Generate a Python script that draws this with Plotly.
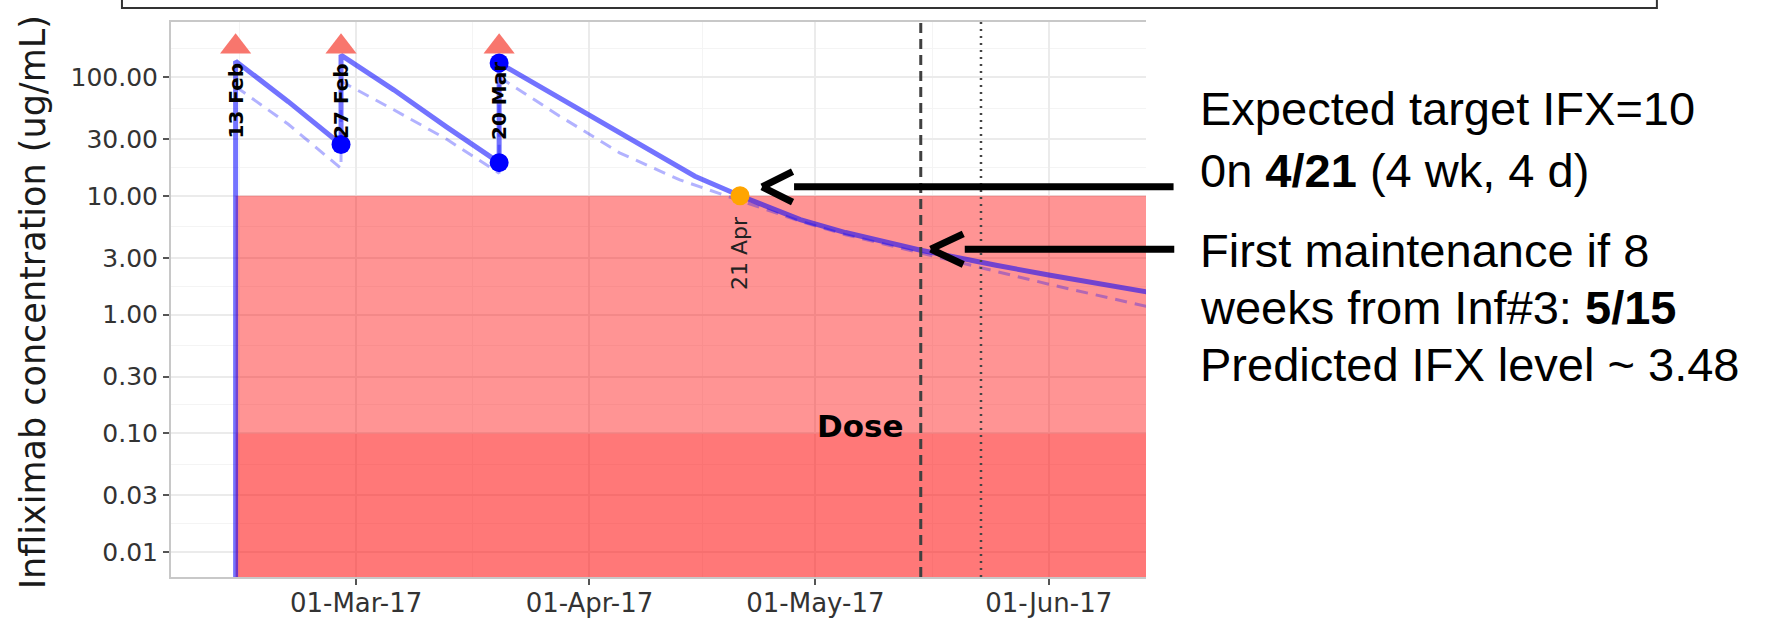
import numpy as np
import plotly.graph_objects as go

# infusions
dose_dates = ["2017-02-13", "2017-02-27", "2017-03-20"]
dose_labels = ["13 Feb", "27 Feb", "20 Mar"]
dose_marker_level = 180

# measured levels
meas_dates = ["2017-02-27", "2017-03-20", "2017-03-20"]
meas_vals = [27, 19, 131]

# individual fit (solid) and population prediction (dashed)
fit_dates = ["2017-02-13", "2017-02-13", "2017-02-20", "2017-02-27", "2017-02-27",
             "2017-03-06", "2017-03-13", "2017-03-20", "2017-03-20", "2017-03-26",
             "2017-03-31", "2017-04-05", "2017-04-10", "2017-04-15", "2017-04-21",
             "2017-04-29", "2017-05-05", "2017-05-15", "2017-05-25", "2017-06-01",
             "2017-06-14"]
fit_vals = [0.001, 136, 62, 27, 153,
            78, 38, 19, 131, 79,
            52, 33.5, 22, 14.6, 10,
            6.3, 4.9, 3.48, 2.6, 2.15,
            1.55]

pop_dates = ["2017-02-13", "2017-02-20", "2017-02-27", "2017-02-27", "2017-03-06",
             "2017-03-13", "2017-03-20", "2017-03-20", "2017-03-28", "2017-04-05",
             "2017-04-13", "2017-04-21", "2017-04-29", "2017-05-05", "2017-05-15",
             "2017-05-23", "2017-06-01", "2017-06-14"]
pop_vals = [83, 40, 17, 92, 53,
            30, 15.5, 100, 47, 23,
            13.6, 9.1, 6.1, 4.7, 3.3,
            2.45, 1.8, 1.17]

target_date = "2017-04-21"
target_val = 10
target_label = "21 Apr"

maint_date = "2017-05-15"
maint_val = 3.48
today_date = "2017-05-23"

upper_limit = 10
lower_limit = 0.1
band_start = "2017-02-13"
band_end = "2017-07-01"
floor_val = 0.001

y_ticks = [0.01, 0.03, 0.1, 0.3, 1, 3, 10, 30, 100]
y_ticktext = ["%.2f" % v for v in y_ticks]
y_ext = y_ticks + [300]
y_minor = [float(np.sqrt(y_ext[i] * y_ext[i + 1])) for i in range(len(y_ext) - 1)]
x_ticks = ["2017-03-01", "2017-04-01", "2017-05-01", "2017-06-01"]
x_minor = ["2017-02-13 12:00", "2017-03-16 12:00", "2017-04-16", "2017-05-16 12:00"]

fig = go.Figure()

# red zones below target
fig.add_trace(go.Scatter(
    x=[band_start, band_end, band_end, band_start],
    y=[lower_limit, lower_limit, upper_limit, upper_limit],
    fill="toself", fillcolor="rgba(255,0,0,0.42)", mode="lines",
    line=dict(width=0), hoverinfo="skip"))
fig.add_trace(go.Scatter(
    x=[band_start, band_end, band_end, band_start],
    y=[floor_val, floor_val, lower_limit, lower_limit],
    fill="toself", fillcolor="rgba(255,0,0,0.53)", mode="lines",
    line=dict(width=0), hoverinfo="skip"))

fig.add_trace(go.Scatter(
    x=pop_dates, y=pop_vals, mode="lines",
    line=dict(color="rgba(0,0,255,0.3)", width=3, dash="12px,8px")))
fig.add_trace(go.Scatter(
    x=fit_dates, y=fit_vals, mode="lines",
    line=dict(color="rgba(0,0,255,0.55)", width=5)))

fig.add_trace(go.Scatter(
    x=dose_dates, y=[dose_marker_level] * len(dose_dates), mode="markers",
    marker=dict(symbol="triangle-up", size=27, color="#F8766D")))
fig.add_trace(go.Scatter(
    x=meas_dates, y=meas_vals, mode="markers",
    marker=dict(size=19, color="#0000FF")))
fig.add_trace(go.Scatter(
    x=[target_date], y=[target_val], mode="markers",
    marker=dict(size=19, color="#FFA500")))

# vertical markers
fig.add_shape(type="line", xref="x", yref="paper", x0=maint_date, x1=maint_date,
              y0=0, y1=1, line=dict(color="#404040", width=3, dash="10px,6px"))
fig.add_shape(type="line", xref="x", yref="paper", x0=today_date, x1=today_date,
              y0=0, y1=1, line=dict(color="#444444", width=2.5, dash="2px,5px"))

# frame above the chart
fig.add_shape(type="rect", xref="paper", yref="paper",
              x0=-0.0503, x1=1.524, y0=1.0252, y1=1.3,
              line=dict(color="#333333", width=2))

ann = []
for d, lab in zip(dose_dates, dose_labels):
    ann.append(dict(x=d, y=np.log10(63), text="<b>%s</b>" % lab, textangle=-90,
                    showarrow=False, xanchor="center", yanchor="middle",
                    font=dict(size=20, color="black")))
ann.append(dict(x=target_date, y=np.log10(3.3), text=target_label, textangle=-90,
                showarrow=False, xanchor="center", yanchor="middle",
                font=dict(size=22, color="#222222")))
ann.append(dict(x="2017-05-07", y=np.log10(0.115), text="<b>Dose</b>", showarrow=False,
                xanchor="center", yanchor="middle",
                font=dict(size=31, color="black")))
ann.append(dict(xref="paper", yref="paper", x=-0.1415, y=0.495,
                text="Infliximab concentration (ug/mL)", textangle=-90,
                showarrow=False, xanchor="center", yanchor="middle",
                font=dict(size=35, color="#1a1a1a")))

side_font = dict(family="Liberation Sans, Arial", size=47, color="black")
side_lines = [
    ("Expected target IFX=10", 0.845),
    ("0n <b>4/21</b> (4 wk, 4 d)", 0.732),
    ("First maintenance if 8", 0.588),
    ("weeks from Inf#3: <b>5/15</b>", 0.485),
    ("Predicted IFX level ~ 3.48", 0.382),
]
for txt, yy in side_lines:
    ann.append(dict(xref="paper", yref="paper", x=1.0534, y=yy, text=txt,
                    showarrow=False, xanchor="left", yanchor="middle", font=side_font))

# arrows pointing at the target and the maintenance level
for (ad, av, xs, ys, tail, gap) in [(target_date, target_val, 22, 9, 413, 32),
                                    (maint_date, maint_val, 10, 1, 245, 34)]:
    common = dict(x=ad, y=np.log10(av), text="", showarrow=True, arrowhead=0,
                  arrowcolor="black", arrowwidth=7, axref="pixel", ayref="pixel",
                  xshift=xs, yshift=ys)
    ann.append(dict(common, ax=tail, ay=0, standoff=gap))
    ann.append(dict(common, ax=gap, ay=-16))
    ann.append(dict(common, ax=gap, ay=16))

fig.update_layout(
    width=1765, height=619,
    margin=dict(l=171, r=619, t=22, b=42),
    paper_bgcolor="white", plot_bgcolor="white",
    showlegend=False, hovermode=False,
    font=dict(family="DejaVu Sans", color="#333333"),
    annotations=ann,
    xaxis=dict(
        type="date", range=["2017-02-04 10:00", "2017-06-13 22:00"],
        automargin=False,
        tickvals=x_ticks, tickformat="%d-%b-%y",
        ticks="outside", ticklen=6, tickwidth=2, tickcolor="#555555",
        ticklabelstandoff=-4,
        tickfont=dict(size=26, color="#333333"),
        showgrid=True, gridcolor="#EBEBEB", gridwidth=2,
        minor=dict(tickvals=x_minor, showgrid=True, gridcolor="#F4F4F4", gridwidth=1),
        showline=True, linecolor="#C8C8C8", linewidth=2, mirror=True, zeroline=False),
    yaxis=dict(
        type="log", range=[-2.21, 2.463],
        automargin=False,
        tickvals=y_ticks, ticktext=y_ticktext,
        ticks="outside", ticklen=6, tickwidth=2, tickcolor="#555555",
        tickfont=dict(size=25, color="#333333"),
        showgrid=True, gridcolor="#EBEBEB", gridwidth=2,
        minor=dict(tickvals=y_minor, showgrid=True, gridcolor="#F4F4F4", gridwidth=1),
        showline=True, linecolor="#C8C8C8", linewidth=2, zeroline=False),
)

# drop the default page margin so the figure sits at the window's corner
fig.write_html("out.html", config={"displayModeBar": False},
               post_script="document.body.style.margin='0';")
